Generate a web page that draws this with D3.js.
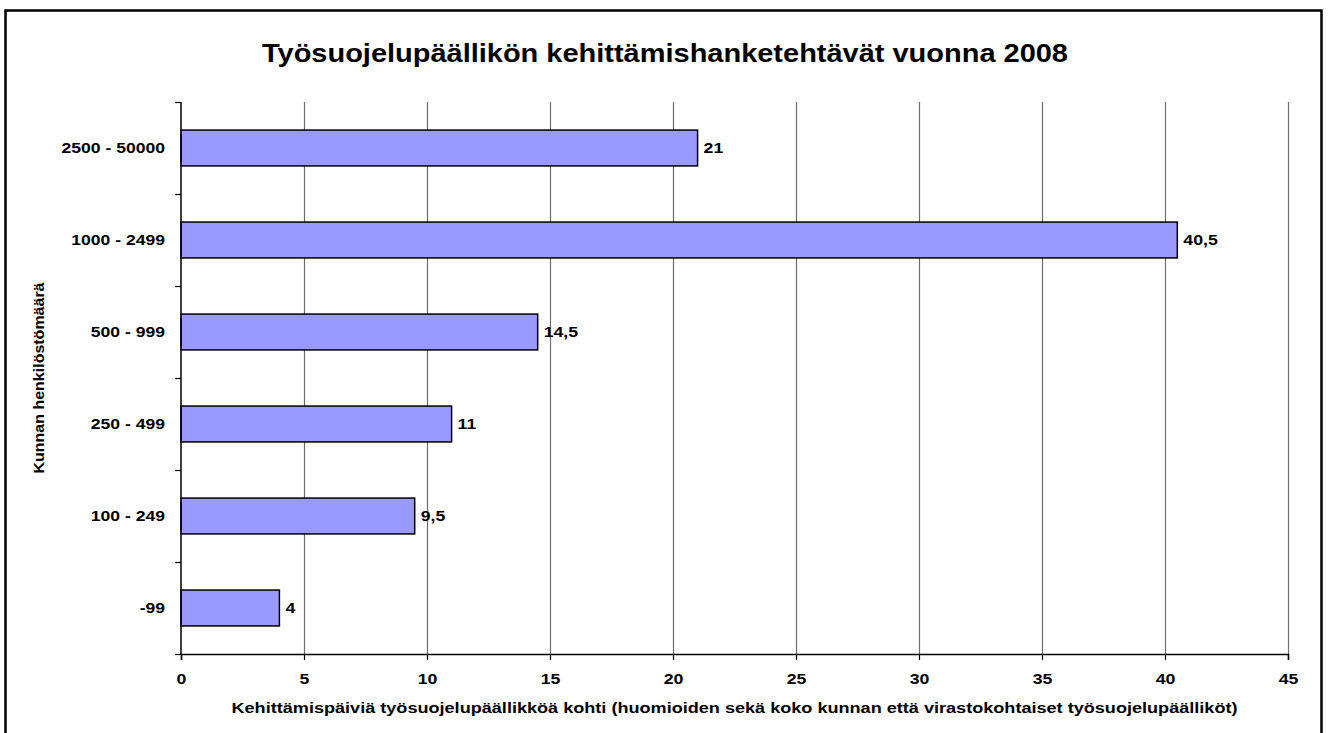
<!DOCTYPE html>
<html>
<head>
<meta charset="utf-8">
<script src="https://cdn.jsdelivr.net/npm/d3@7"></script>
<style>
  html, body { margin: 0; padding: 0; background: #fff; }
  svg { display: block; font-family: "Liberation Sans", Arial, sans-serif; }
</style>
</head>
<body>
<svg id="chart" width="1330" height="733"></svg>
<script>
const categories = ["2500 - 50000", "1000 - 2499", "500 - 999", "250 - 499", "100 - 249", "-99"];
const values = [21, 40.5, 14.5, 11, 9.5, 4];
const valueLabels = ["21", "40,5", "14,5", "11", "9,5", "4"];
const xTicks = [0, 5, 10, 15, 20, 25, 30, 35, 40, 45];
const titleText = "Työsuojelupäällikön kehittämishanketehtävät vuonna 2008";
const xTitle = "Kehittämispäiviä työsuojelupäällikköä kohti (huomioiden sekä koko kunnan että virastokohtaiset työsuojelupäälliköt)";
const yTitle = "Kunnan henkilöstömäärä";

const FONT = '"Liberation Sans", Arial, sans-serif';
const svg = d3.select("#chart");
const m = { left: 181, right: 1288, top: 102, bottom: 654 };

function stretch(sel, k) {
  sel.each(function () {
    const w = this.getComputedTextLength();
    d3.select(this).attr("textLength", w * k).attr("lengthAdjust", "spacingAndGlyphs");
  });
}

// outer border
svg.append("rect").attr("x", 5.5).attr("y", 10.5).attr("width", 1316).attr("height", 740)
  .attr("fill", "none").attr("stroke", "#000").attr("stroke-width", 2.5);

const x = d3.scaleLinear().domain([0, 45]).range([m.left, m.right]);
const y = d3.scaleBand().domain(categories).range([m.top, m.bottom]).paddingInner(0.61).paddingOuter(0.305);
const yb = d3.scaleBand().domain(categories).range([m.top, m.bottom]);

// gridlines
svg.append("g").selectAll("line").data(xTicks.filter(d => d > 0)).join("line")
  .attr("x1", d => Math.round(x(d)) + 0.5).attr("x2", d => Math.round(x(d)) + 0.5)
  .attr("y1", m.top).attr("y2", m.bottom)
  .attr("stroke", "#6e6e6e").attr("stroke-width", 1.2);

// bars
svg.append("g").selectAll("rect").data(values).join("rect")
  .attr("x", x(0))
  .attr("y", (d, i) => y(categories[i]))
  .attr("width", d => x(d) - x(0))
  .attr("height", y.bandwidth())
  .attr("fill", "#9999ff").attr("stroke", "#000").attr("stroke-width", 1.5);

// value labels
svg.append("g").selectAll("text").data(values).join("text")
  .attr("x", d => x(d) + 6)
  .attr("y", (d, i) => y(categories[i]) + y.bandwidth() / 2)
  .attr("dy", "0.36em")
  .attr("font-size", 15).attr("font-weight", "bold")
  .text((d, i) => valueLabels[i])
  .call(stretch, 1.18);

// x axis
const xAxis = d3.axisBottom(x).tickValues(xTicks).tickSize(6).tickFormat(d3.format("d"));
const gx = svg.append("g").attr("transform", `translate(0,${m.bottom})`).call(xAxis);
gx.select(".domain").attr("stroke", "#000").attr("stroke-width", 1.5);
gx.selectAll(".tick line").attr("stroke", "#000").attr("stroke-width", 1.2);
gx.selectAll(".tick text").attr("y", 30).attr("dy", 0)
  .attr("font-size", 15).attr("font-weight", "bold").attr("fill", "#000").attr("font-family", FONT)
  .call(stretch, 1.18);

// y axis
const yAxis = d3.axisLeft(yb).tickSize(0).tickPadding(16);
const gy = svg.append("g").attr("transform", `translate(${m.left},0)`).call(yAxis);
gy.select(".domain").remove();
svg.append("line").attr("x1", m.left).attr("x2", m.left).attr("y1", m.top).attr("y2", m.bottom)
  .attr("stroke", "#000").attr("stroke-width", 1.5);
gy.selectAll(".tick text").attr("font-size", 15).attr("font-weight", "bold").attr("fill", "#000")
  .attr("font-family", FONT).call(stretch, 1.17);
// category boundary ticks
const boundaries = categories.map(c => yb(c)).concat([m.bottom]);
svg.append("g").selectAll("line").data(boundaries).join("line")
  .attr("x1", m.left - 6).attr("x2", m.left)
  .attr("y1", d => Math.round(d) + 0.5).attr("y2", d => Math.round(d) + 0.5)
  .attr("stroke", "#000").attr("stroke-width", 1.2);

// title
svg.append("text").attr("x", 665).attr("y", 62).attr("text-anchor", "middle")
  .attr("font-size", 25).attr("font-weight", "bold")
  .attr("textLength", 806).attr("lengthAdjust", "spacingAndGlyphs").text(titleText);

// x title
svg.append("text").attr("x", (m.left + m.right) / 2).attr("y", 713).attr("text-anchor", "middle")
  .attr("font-size", 14).attr("font-weight", "bold")
  .attr("textLength", 1006).attr("lengthAdjust", "spacingAndGlyphs").text(xTitle);

// y title
svg.append("text").attr("transform", `translate(44,${(m.top + m.bottom) / 2}) rotate(-90)`)
  .attr("text-anchor", "middle").attr("font-size", 14).attr("font-weight", "bold")
  .attr("textLength", 191).attr("lengthAdjust", "spacingAndGlyphs").text(yTitle);
</script>
</body>
</html>
